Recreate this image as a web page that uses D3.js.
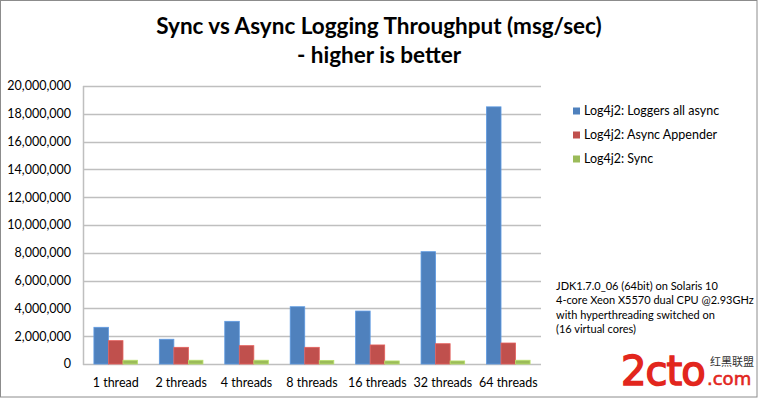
<!DOCTYPE html>
<html>
<head>
<meta charset="utf-8">
<script src="https://cdn.jsdelivr.net/npm/d3@7"></script>
<style>
  body { margin: 0; background: #fff; }
  svg { display: block; font-family: Lato, "Open Sans", sans-serif; }
</style>
</head>
<body>
<div id="chart"></div>
<script>
// Data
const categories = ["1 thread", "2 threads", "4 threads", "8 threads", "16 threads", "32 threads", "64 threads"];
const seriesNames = ["Log4j2: Loggers all async", "Log4j2: Async Appender", "Log4j2: Sync"];
const loggersAllAsync = [2640000, 1780000, 3070000, 4120000, 3810000, 8080000, 18500000];
const asyncAppender = [1680000, 1200000, 1320000, 1200000, 1370000, 1460000, 1510000];
const syncLogging = [270000, 270000, 270000, 260000, 220000, 220000, 270000];
const yTicks = [0, 2000000, 4000000, 6000000, 8000000, 10000000, 12000000, 14000000, 16000000, 18000000, 20000000];
const titleLines = ["Sync vs Async Logging Throughput (msg/sec)", "- higher is better"];
const noteLines = ["JDK1.7.0_06 (64bit) on Solaris 10", "4-core Xeon X5570 dual CPU @2.93GHz",
  "with hyperthreading switched on", "(16 virtual cores)"];

const colors = ["#4f81bd", "#c0504d", "#9bbb59"];
const seriesValues = [loggersAllAsync, asyncAppender, syncLogging];

const width = 758, height = 399;
const plot = { left: 83, right: 541, top: 86, bottom: 364 };

const svg = d3.select("#chart").append("svg")
    .attr("width", width)
    .attr("height", height);

// outer chart border
svg.append("rect")
    .attr("x", 0.5).attr("y", 0.5)
    .attr("width", width - 1.5).attr("height", height - 2.5)
    .attr("fill", "#fff")
    .attr("stroke", "#8c8c8c");

// title
svg.append("g").selectAll("text")
    .data(titleLines)
    .enter().append("text")
    .attr("x", 379)
    .attr("y", (d, i) => 34 + i * 29)
    .attr("text-anchor", "middle")
    .style("font-size", "22.5px")
    .style("font-weight", "bold")
    .attr("fill", "#000")
    .text(d => d);

// scales
const x0 = d3.scaleBand()
    .domain(categories)
    .range([plot.left, plot.right])
    .paddingInner(1 / 3)   // Excel gap width 150%
    .paddingOuter(1 / 6);

const x1 = d3.scaleBand()
    .domain(d3.range(seriesNames.length))
    .range([0, x0.bandwidth()]);

const y = d3.scaleLinear()
    .domain([0, 20000000])
    .range([plot.bottom, plot.top]);

// gridlines
svg.append("g").selectAll("line")
    .data(yTicks)
    .enter().append("line")
    .attr("x1", plot.left).attr("x2", plot.right)
    .attr("y1", d => Math.round(y(d)) + 0.5)
    .attr("y2", d => Math.round(y(d)) + 0.5)
    .attr("stroke", "#bfbfbf")
    .attr("stroke-width", 1.5);

// left axis line
svg.append("line")
    .attr("x1", plot.left + 0.5).attr("x2", plot.left + 0.5)
    .attr("y1", plot.top).attr("y2", plot.bottom + 1)
    .attr("stroke", "#bfbfbf")
    .attr("stroke-width", 1.5);

// y labels
const fmt = d3.format(",");
svg.append("g").selectAll("text")
    .data(yTicks)
    .enter().append("text")
    .attr("x", 71)
    .attr("y", d => y(d))
    .attr("dy", "0.35em")
    .attr("text-anchor", "end")
    .style("font-size", "12.5px")
    .attr("fill", "#000")
    .text(d => fmt(d));

// bars
const groups = svg.append("g").selectAll("g")
    .data(categories)
    .enter().append("g")
    .attr("transform", d => `translate(${x0(d)},0)`);

groups.selectAll("rect")
    .data((d, i) => seriesValues.map((s, k) => ({ k: k, v: s[i] })))
    .enter().append("rect")
    .attr("x", d => x1(d.k))
    .attr("width", x1.bandwidth())
    .attr("y", d => y(d.v))
    .attr("height", d => y(0) - y(d.v))
    .attr("fill", d => colors[d.k])
    .attr("stroke", d => d3.color(colors[d.k]).brighter(0.5))
    .attr("stroke-width", 0.8);

// x labels
svg.append("g").selectAll("text")
    .data(categories)
    .enter().append("text")
    .attr("x", d => x0(d) + x0.bandwidth() / 2)
    .attr("y", 387)
    .attr("text-anchor", "middle")
    .style("font-size", "12.5px")
    .attr("fill", "#000")
    .text(d => d);

// legend
const legend = svg.append("g").selectAll("g")
    .data(seriesNames)
    .enter().append("g")
    .attr("transform", (d, i) => `translate(573,${111 + i * 24})`);

legend.append("rect")
    .attr("x", 0).attr("y", -3.5)
    .attr("width", 7).attr("height", 7)
    .attr("fill", (d, i) => colors[i]);

legend.append("text")
    .attr("x", 11)
    .attr("dy", "0.35em")
    .style("font-size", "12.5px")
    .attr("fill", "#000")
    .text(d => d);

// note
svg.append("g").selectAll("text")
    .data(noteLines)
    .enter().append("text")
    .attr("x", 556)
    .attr("y", (d, i) => 286 + i * 14.5)
    .attr("dy", "0.35em")
    .style("font-size", "11px")
    .attr("fill", "#000")
    .text(d => d);

// watermark
const wm = svg.append("g").attr("fill", "#e2261d");
wm.append("text")
    .attr("x", 621).attr("y", 385)
    .style("font-size", "40px")
    .style("font-family", "'DejaVu Sans', sans-serif")
    .style("letter-spacing", "-1px")
    .attr("stroke", "#e2261d")
    .attr("stroke-width", 1.5)
    .text("2cto");
wm.append("text")
    .attr("x", 707).attr("y", 385)
    .style("font-size", "18px")
    .style("font-family", "'DejaVu Sans', sans-serif")
    .attr("stroke", "#e2261d")
    .attr("stroke-width", 0.6)
    .text(".com");
wm.append("text")
    .attr("x", 710).attr("y", 366)
    .style("font-size", "11px")
    .style("font-family", "'Noto Sans CJK SC', sans-serif")
    .attr("fill", "#333")
    .text("红黑联盟");
</script>
</body>
</html>
